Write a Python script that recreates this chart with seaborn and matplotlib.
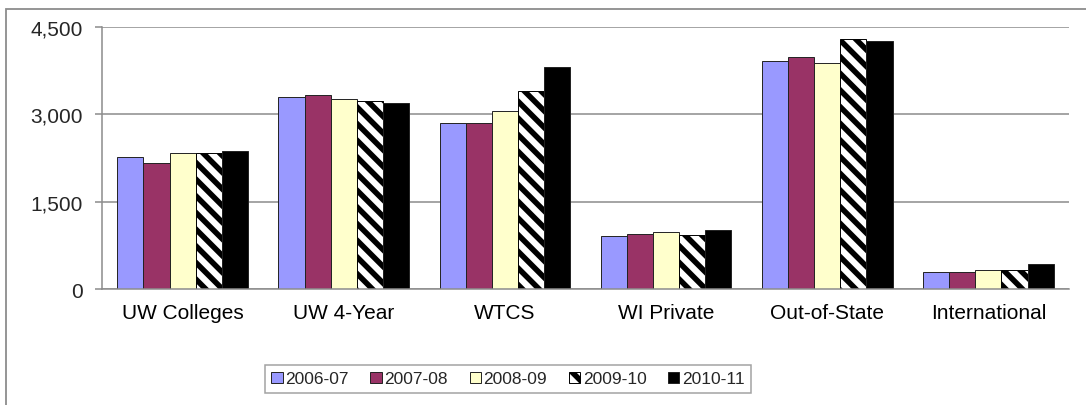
import numpy as np
import pandas as pd
import matplotlib
matplotlib.use('Agg')
import matplotlib.pyplot as plt
import seaborn as sns
from matplotlib.patches import Rectangle
from matplotlib.ticker import FuncFormatter, FixedLocator

# data
categories = ['UW Colleges', 'UW 4-Year', 'WTCS', 'WI Private', 'Out-of-State', 'International']
years = ['2006-07', '2007-08', '2008-09', '2009-10', '2010-11']
v_2006 = [2270, 3300, 2850, 905, 3915, 290]
v_2007 = [2165, 3335, 2850, 940, 3985, 290]
v_2008 = [2335, 3265, 3050, 975, 3885, 320]
v_2009 = [2335, 3235, 3405, 935, 4290, 320]
v_2010 = [2370, 3195, 3815, 1015, 4260, 430]
colors = ['#9999FF', '#993366', '#FFFFCC', '#FFFFFF', '#000000']

rows = []
for yr, vals in zip(years, [v_2006, v_2007, v_2008, v_2009, v_2010]):
    for c, v in zip(categories, vals):
        rows.append({'category': c, 'year': yr, 'value': v})
df = pd.DataFrame(rows)

sns.set_theme(style='white')
plt.rcParams['font.family'] = ['Liberation Sans', 'DejaVu Sans']
plt.rcParams['hatch.linewidth'] = 4.0

fig = plt.figure(figsize=(10.86, 4.06), dpi=100)
ax = fig.add_axes([102 / 1086, 1 - 290 / 406, (1069 - 102) / 1086, (290 - 28) / 406])

sns.barplot(data=df, x='category', y='value', hue='year', palette=colors,
            saturation=1, width=0.81, edgecolor='#222222', linewidth=0.7,
            legend=False, ax=ax)

# hatched series
for p in ax.containers[3].patches:
    p.set_hatch('\\\\')
    p.set_edgecolor('black')

ax.set_ylim(0, 4500)
ax.set_xlim(-0.5, len(categories) - 0.5)
ax.set_yticks([0, 1500, 3000, 4500])
ax.yaxis.set_major_formatter(FuncFormatter(lambda v, p: f'{int(v):,}'))
ax.set_xlabel('')
ax.set_ylabel('')
ax.grid(axis='y', color='#8c8c8c', linewidth=1.1)
ax.set_axisbelow(True)

for s in ['top', 'right']:
    ax.spines[s].set_visible(False)
for s in ['left', 'bottom']:
    ax.spines[s].set_color('#8c8c8c')
    ax.spines[s].set_linewidth(1.1)

ax.xaxis.set_minor_locator(FixedLocator(np.arange(-0.5, len(categories), 1.0)))
ax.tick_params(axis='x', which='major', length=0, pad=10, labelsize=15, colors='black')
ax.tick_params(axis='x', which='minor', length=5, width=1.1, color='#8c8c8c', direction='out')
ax.tick_params(axis='y', which='major', length=5, width=1.1, color='#8c8c8c', pad=9,
               labelsize=15, left=True)

handles = list(ax.containers)
leg = fig.legend(handles, years, loc='center', bbox_to_anchor=(508 / 1086, 1 - 380 / 406),
                 ncol=5, fontsize=12.5, frameon=True, fancybox=False,
                 handlelength=0.65, handleheight=0.65, handletextpad=0.15,
                 columnspacing=1.25, borderpad=0.35, borderaxespad=0)
leg.get_frame().set_edgecolor('#8c8c8c')
leg.get_frame().set_linewidth(1.1)

# outer chart frame (left and top edges visible)
fig.add_artist(Rectangle((6 / 1086, -0.1), 1.2, 1.1 - 10 / 406,
                         transform=fig.transFigure, fill=False,
                         edgecolor='#8c8c8c', linewidth=1.3, clip_on=False))

fig.savefig('out.png', dpi=100, facecolor='white')
